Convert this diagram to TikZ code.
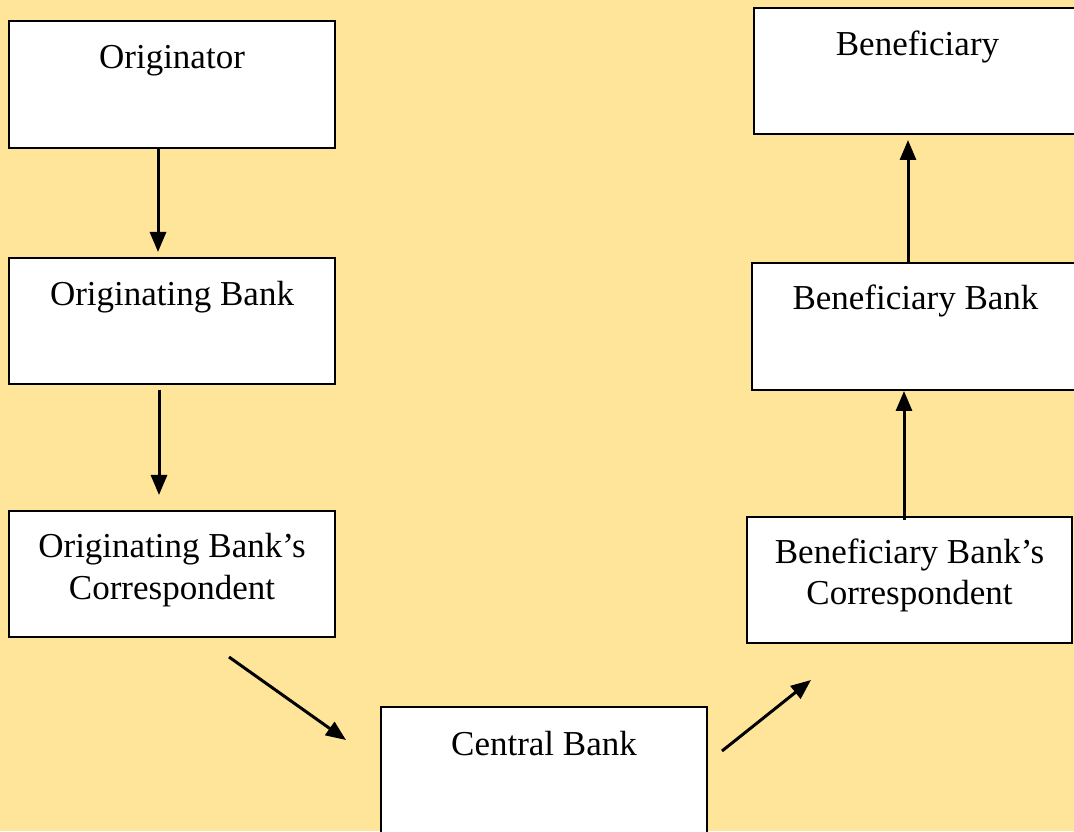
\documentclass[tikz,border=0pt]{standalone}
\usepackage{fontspec}
\setmainfont{Liberation Serif}
\usetikzlibrary{arrows.meta}
\definecolor{pagebg}{RGB}{255,229,153}

\tikzset{
  box/.style={draw=black, line width=2.5pt, fill=white, rectangle,
              inner sep=0pt, outer sep=0pt, minimum width=326pt, minimum height=127pt},
  boxtext/.style={anchor=base, align=center, inner sep=0pt,
                  font=\fontsize{35pt}{42pt}\selectfont},
  arr/.style={line width=3pt, -{Triangle[length=20pt,width=16pt]}}
}

\begin{document}
\begin{tikzpicture}[x=1pt,y=1pt]
  \useasboundingbox (0,0) rectangle (1074,831);
  \clip (0,0) rectangle (1074,831);
  \fill[pagebg] (0,0) rectangle (1074,831);

  % left column: originator side
  \node[box] (orig)  at (172,746.5) {};
  \node[box, minimum height=126pt] (obank) at (172,510) {};
  \node[box, minimum height=126pt] (ocorr) at (172,257) {};

  % bottom: central bank (runs off the lower edge)
  \node[box, minimum height=150pt] (cbank) at (544,49) {};

  % right column: beneficiary side
  \node[box, minimum width=325pt, minimum height=126pt] (bcorr) at (909.5,251) {};
  \node[box, minimum width=327pt] (bbank) at (915.5,504.5) {};
  \node[box, minimum width=327pt, minimum height=126pt] (benef) at (917.5,760) {};

  % labels (two-line labels sit on the baseline of their last line)
  \node[boxtext] (origT)  at ([yshift=-48pt]orig.north)  {Originator};
  \node[boxtext] (obankT) at ([yshift=-48pt]obank.north) {Originating Bank};
  \node[boxtext] (ocorrT) at ([yshift=-88pt]ocorr.north) {Originating Bank’s\\Correspondent};
  \node[boxtext] (cbankT) at ([yshift=-48pt]cbank.north) {Central Bank};
  \node[boxtext] (bcorrT) at ([yshift=-88pt]bcorr.north) {Beneficiary Bank’s\\Correspondent};
  \node[boxtext] (bbankT) at ([yshift=-47pt]bbank.north) {Beneficiary Bank};
  \node[boxtext] (benefT) at ([yshift=-48pt]benef.north) {Beneficiary};

  % flow of the payment
  \draw[arr, shorten >=6pt]
    ([xshift=-14pt]orig.south) -- ([xshift=-14pt]obank.north);
  \draw[arr, shorten <=6pt, shorten >=16pt]
    ([xshift=-13pt]obank.south) -- ([xshift=-13pt]ocorr.north);
  \draw[arr]
    ([xshift=57pt,yshift=-20pt]ocorr.south) -- ([xshift=-35pt,yshift=-33pt]cbank.north west);
  \draw[arr]
    ([xshift=15pt,yshift=-44pt]cbank.north east) -- ([xshift=64pt,yshift=-37pt]bcorr.south west);
  \draw[arr, shorten >=1pt]
    ([xshift=-5.5pt,yshift=-3pt]bcorr.north) -- ([xshift=-11.5pt]bbank.south);
  \draw[arr, shorten >=6pt]
    ([xshift=-7.5pt]bbank.north) -- ([xshift=-9.5pt]benef.south);
\end{tikzpicture}
\end{document}
